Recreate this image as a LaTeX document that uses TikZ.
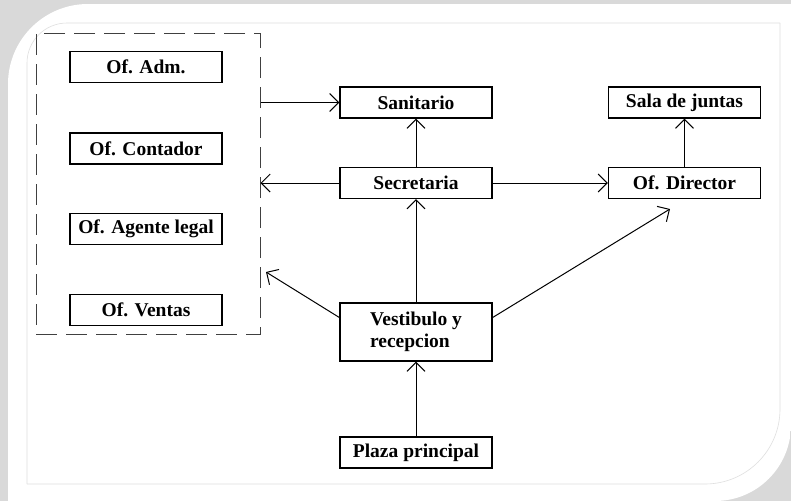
\documentclass[tikz,border=0pt]{standalone}
\usepackage{fontspec}
\setmainfont{Liberation Serif}
\usetikzlibrary{arrows.meta}

\tikzset{
  caja/.style={draw, line width=1.3pt, fill=white, minimum width=152pt,
    minimum height=31pt, inner sep=0pt, font=\bfseries\fontsize{19.5}{22}\selectfont},
  grupo/.style={draw=black!75, line width=1pt, dash pattern=on 21pt off 9pt,
    minimum width=224pt, minimum height=301pt, inner sep=0pt},
  flecha/.style={line width=1pt, -{Straight Barb[length=9pt,width=18pt,line width=1pt]}}
}

\begin{document}
\begin{tikzpicture}[x=1pt, y=-1pt]

% ---------- marco ----------
\useasboundingbox (0,0) rectangle (791,501);
\fill[gray!30] (0,0) rectangle (791,501);
\begin{scope}
\clip[rounded corners=76pt] (-100,-100) rectangle (791,501);
\fill[white, rounded corners=80pt] (8,4) rectangle (900,600);
\end{scope}
\draw[gray!25, line width=0.6pt, rounded corners=40pt] (27,484) -- (27,23) -- (780,23);
\draw[gray!25, line width=0.6pt, rounded corners=75pt] (780,23) -- (780,484) -- (27,484);

% ---------- oficinas ----------
\node[grupo] (oficinas) at (148,183.5) {};
\node[caja] (adm) at (146,67) {Of. Adm.};
\node[caja] (contador) at (146,148.5) {Of. Contador};
\node[caja] (agente) at (146,229) {Of. Agente legal};
\node[caja] (ventas) at (146,310) {Of. Ventas};

% ---------- centro ----------
\node[caja] (sanitario) at (416,102.5) {Sanitario};
\node[caja] (secretaria) at (416,183) {Secretaria};
\node[caja, minimum height=58pt, align=left] (vestibulo) at (416,332) {Vestibulo y\\recepcion};
\node[caja] (plaza) at (416,452.5) {Plaza principal};

% ---------- direccion ----------
\node[caja] (sala) at (684.5,102.5) {Sala de juntas};
\node[caja] (director) at (684.5,183) {Of. Director};

% ---------- flechas ----------
\coordinate (ofi-punta) at (266,272);
\coordinate (dir-punta) at (670,209);

\draw[flecha] (oficinas.east |- sanitario) -- (sanitario);
\draw[flecha] (secretaria) -- (oficinas.east |- secretaria);
\draw[flecha] (secretaria) -- (sanitario);
\draw[flecha] (secretaria) -- (director);
\draw[flecha] (director) -- (sala);
\draw[flecha] (vestibulo) -- (secretaria);
\draw[flecha] (plaza) -- (vestibulo);
\draw[flecha] ([yshift=14.5pt]vestibulo.west) -- (ofi-punta);
\draw[flecha] ([yshift=14.5pt]vestibulo.east) -- (dir-punta);

\end{tikzpicture}
\end{document}
